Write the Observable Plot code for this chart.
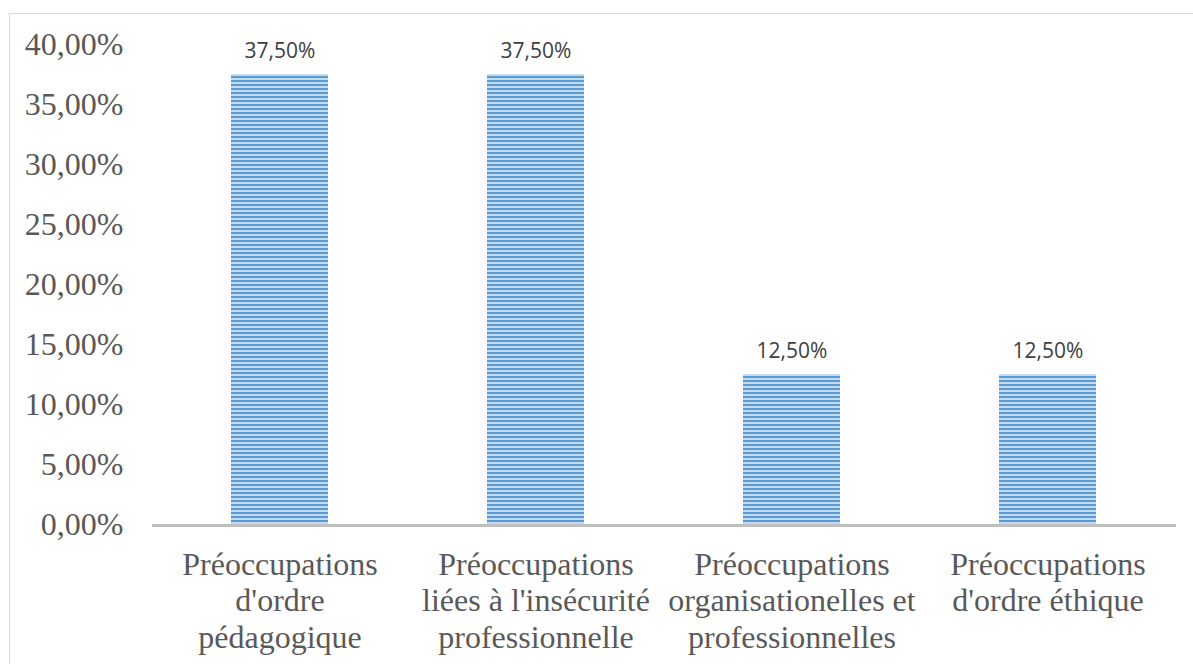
<!DOCTYPE html>
<html>
<head>
<meta charset="utf-8">
<script src="https://cdn.jsdelivr.net/npm/d3@7"></script>
<script src="https://cdn.jsdelivr.net/npm/@observablehq/plot@0.6"></script>
<style>
  html, body { margin: 0; padding: 0; background: #fff; overflow: hidden; }
  #wrap { position: relative; width: 1193px; height: 664px; }
  #frame { position: absolute; left: 9px; top: 13px; width: 1300px; height: 800px; border: 1.5px solid #d9d9d9; box-sizing: border-box; }
  #chart { position: absolute; left: 0; top: 0; }
</style>
</head>
<body>
<div id="wrap"><div id="frame"></div><div id="chart"></div></div>
<script>
const categories = ["pedagogique", "insecurite", "organisationelles", "ethique"];
const categoryLabels = [
  "Préoccupations\nd'ordre\npédagogique",
  "Préoccupations\nliées à l'insécurité\nprofessionnelle",
  "Préoccupations\norganisationelles et\nprofessionnelles",
  "Préoccupations\nd'ordre éthique"
];
const values = [37.5, 37.5, 12.5, 12.5];
const valueLabels = ["37,50%", "37,50%", "12,50%", "12,50%"];
const yTicks = [0, 5, 10, 15, 20, 25, 30, 35, 40];
const yTickLabels = ["0,00%", "5,00%", "10,00%", "15,00%", "20,00%", "25,00%", "30,00%", "35,00%", "40,00%"];

const data = categories.map((c, i) => ({cat: c, label: categoryLabels[i], value: values[i], text: valueLabels[i]}));
const labelOf = new Map(categories.map((c, i) => [c, categoryLabels[i]]));
const tickLabelOf = new Map(yTicks.map((t, i) => [t, yTickLabels[i]]));

const plot = Plot.plot({
  width: 1193,
  height: 664,
  marginLeft: 152,
  marginRight: 17,
  marginTop: 44,
  marginBottom: 140,
  style: {background: "transparent", overflow: "visible"},
  x: {domain: categories, paddingInner: 0.62, paddingOuter: 0.31, label: null},
  y: {domain: [0, 40], label: null},
  marks: [
    Plot.barY(data, {x: "cat", y: "value", fill: "url(#stripes)"}),
    Plot.ruleY([0], {stroke: "#bfbfbf", strokeWidth: 3, dy: 1}),
    Plot.text(data, {x: "cat", y: "value", text: "text", dy: -23, fontSize: 21, fill: "#404040", fontFamily: "Open Sans"}),
    Plot.axisY({ticks: yTicks, tickSize: 0, tickPadding: 29, tickFormat: d => tickLabelOf.get(d),
      fontSize: 32, fontFamily: "Liberation Serif", fill: "#595959", label: null}),
    Plot.axisX({tickSize: 0, tickPadding: 24, tickFormat: d => labelOf.get(d), lineHeight: 1.15,
      fontSize: 32, fontFamily: "Liberation Serif", fill: "#595959", label: null, textOverflow: null, lineWidth: Infinity})
  ]
});

const svg = d3.select(plot);
const defs = svg.insert("defs", ":first-child");
const pat = defs.append("pattern").attr("id", "stripes").attr("patternUnits", "userSpaceOnUse")
  .attr("width", 4).attr("height", 4);
pat.append("rect").attr("width", 4).attr("height", 4).attr("fill", "#c5dbf1");
pat.append("rect").attr("width", 4).attr("height", 2).attr("fill", "#5b9bd5");

document.getElementById("chart").appendChild(plot);
</script>
</body>
</html>
